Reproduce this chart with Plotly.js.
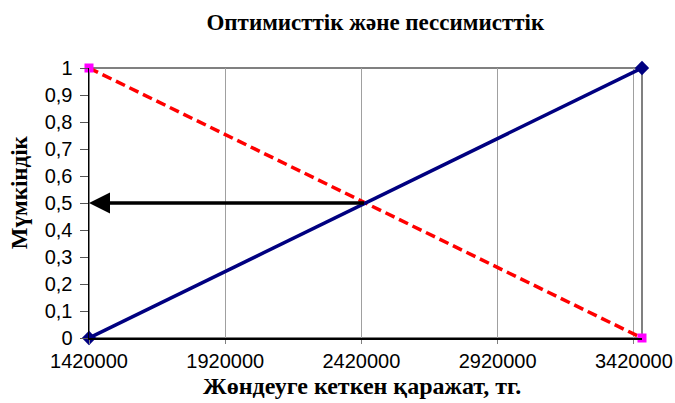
<!DOCTYPE html>
<html>
<head>
<meta charset="utf-8">
<script src="https://cdn.plot.ly/plotly-3.0.1.min.js"></script>
<style>html,body{margin:0;padding:0;background:#fff;}#chart{width:675px;height:403px;}</style>
</head>
<body>
<div id="chart"></div>
<script>
// Data
var costs = [1420000, 3450000];
var optimistic = [0, 1];
var pessimistic = [1, 0];
var arrowFrom = [2435000, 0.5];
var arrowTo = [1420000, 0.5];
var xTickVals = [1420000, 1920000, 2420000, 2920000, 3420000];
var yTickVals = [0, 0.1, 0.2, 0.3, 0.4, 0.5, 0.6, 0.7, 0.8, 0.9, 1];
var yTickText = ['0', '0,1', '0,2', '0,3', '0,4', '0,5', '0,6', '0,7', '0,8', '0,9', '1'];
var chartTitle = 'Оптимисттік және пессимисттік';
var xTitle = 'Жөндеуге кеткен қаражат, тг.';
var yTitle = 'Мүмкіндік';

var serif = '"Liberation Serif", "Times New Roman", serif';
var sans = '"Liberation Sans", Arial, sans-serif';

var traces = [
  {
    x: costs, y: pessimistic, type: 'scatter', mode: 'lines+markers',
    name: 'Пессимисттік',
    line: {color: '#ff0000', width: 3.5, dash: '10px,5px'},
    marker: {symbol: 'square', size: 9, color: '#ff00ff'},
    cliponaxis: false
  },
  {
    x: costs, y: optimistic, type: 'scatter', mode: 'lines+markers',
    name: 'Оптимисттік',
    line: {color: '#000080', width: 3.5},
    marker: {symbol: 'diamond', size: 11, color: '#000080'},
    cliponaxis: false
  }
];

var layout = {
  width: 675, height: 403,
  margin: {l: 89, r: 33, t: 68, b: 65},
  paper_bgcolor: '#ffffff', plot_bgcolor: '#ffffff',
  showlegend: false,
  font: {family: sans, size: 20, color: '#000'},
  title: {text: chartTitle, font: {family: serif, size: 23, color: '#000', weight: 'bold'},
          x: 0.556, xanchor: 'center', y: 0.945, yanchor: 'middle'},
  xaxis: {
    range: [1420000, 3450000], tickvals: xTickVals, ticktext: xTickVals.map(String),
    showgrid: true, gridcolor: '#a0a0a0', gridwidth: 1,
    showline: true, linecolor: '#000', linewidth: 1.5, zeroline: false,
    ticks: 'outside', ticklen: 4, tickcolor: '#808080', tickwidth: 1,
    tickfont: {family: sans, size: 20, color: '#000'},
    fixedrange: true
  },
  yaxis: {
    range: [0, 1], tickvals: yTickVals, ticktext: yTickText,
    showgrid: false, showline: true, linecolor: '#000', linewidth: 1.5, zeroline: false,
    ticks: 'outside', ticklen: 8, tickcolor: '#555', tickwidth: 1,
    ticklabelstandoff: 3,
    tickfont: {family: sans, size: 20, color: '#000'},
    fixedrange: true
  },
  shapes: [
    {type: 'rect', xref: 'paper', yref: 'paper', x0: 0, x1: 1, y0: 0, y1: 1,
     line: {color: '#808080', width: 2}, layer: 'below'}
  ],
  annotations: [
    {x: arrowTo[0], y: arrowTo[1], ax: arrowFrom[0], ay: arrowFrom[1],
     xref: 'x', yref: 'y', axref: 'x', ayref: 'y', text: '',
     showarrow: true, arrowhead: 2, arrowsize: 1.2, arrowwidth: 3.5, arrowcolor: '#000', standoff: 0},
    {text: xTitle, xref: 'paper', yref: 'paper', x: (362 - 89) / 553, y: 0, yshift: -48, xanchor: 'center', yanchor: 'middle',
     showarrow: false, font: {family: serif, size: 24, color: '#000', weight: 'bold'}},
    {text: yTitle, xref: 'paper', yref: 'paper', x: 0, xshift: -70, y: 0.54, xanchor: 'center', yanchor: 'middle',
     textangle: -90, showarrow: false, font: {family: serif, size: 23, color: '#000', weight: 'bold'}}
  ]
};

Plotly.newPlot('chart', traces, layout, {displayModeBar: false, staticPlot: true});
</script>
</body>
</html>
